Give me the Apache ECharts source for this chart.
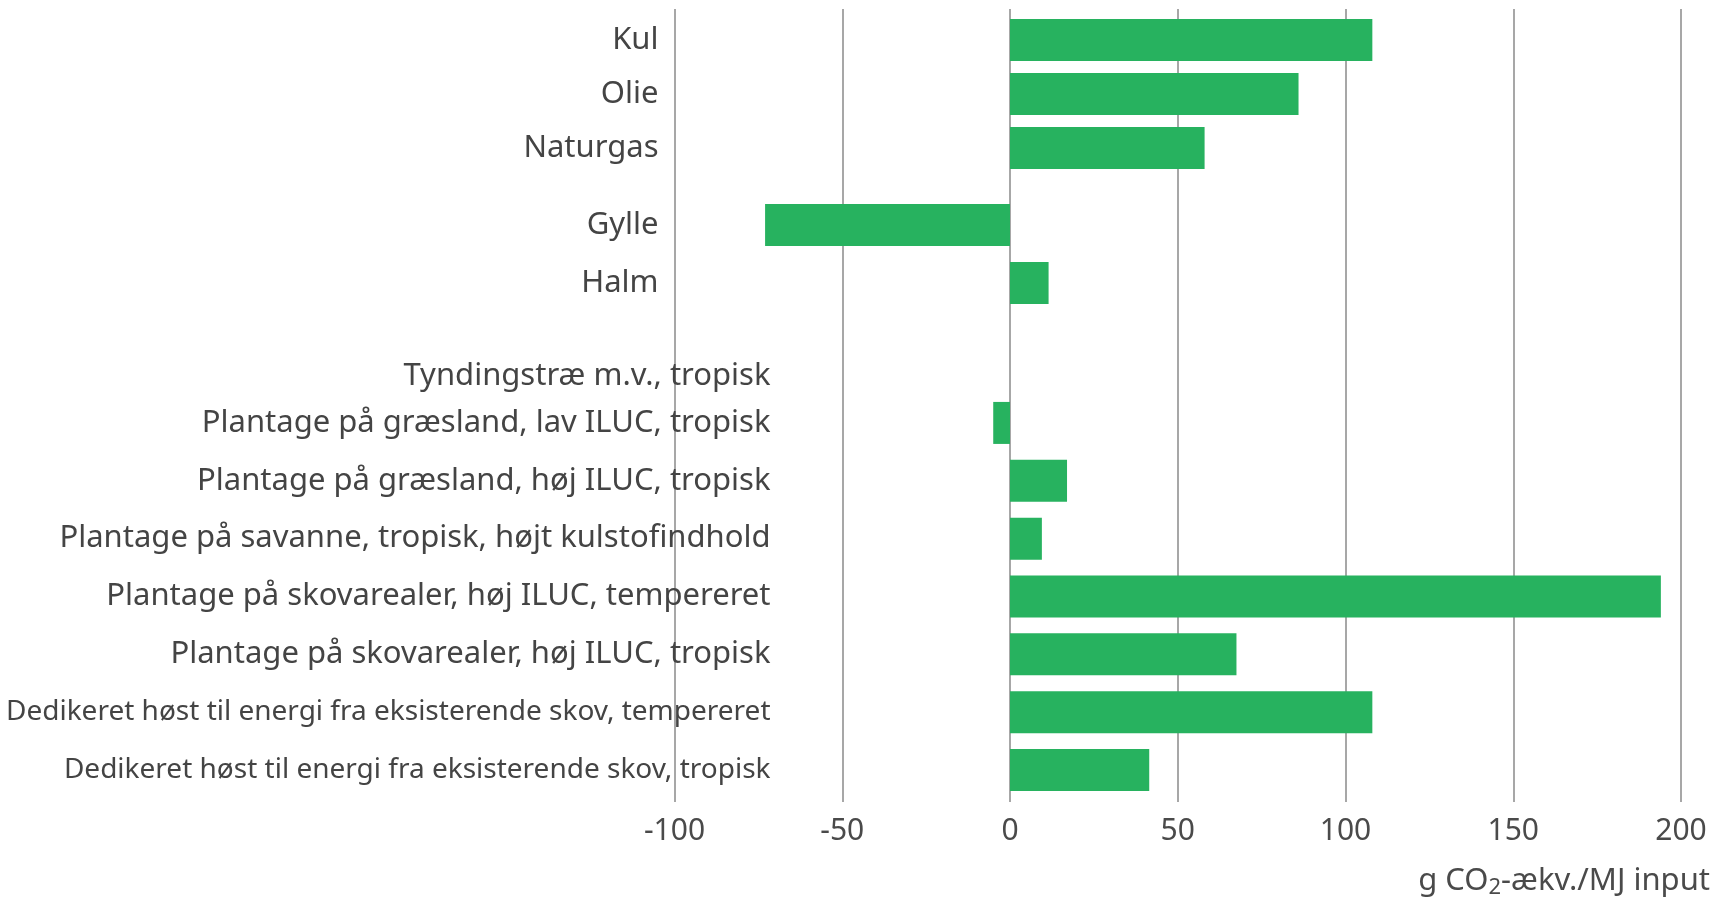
<!DOCTYPE html>
<html>
<head>
<meta charset="utf-8">
<script src="https://cdn.jsdelivr.net/npm/echarts@6/dist/echarts.min.js"></script>
<style>
html,body{margin:0;padding:0;background:#fff;}
#chart{width:1728px;height:898px;}
</style>
</head>
<body>
<div id="chart"></div>
<script>
// ---- data ----
const fossilCats = ['Kul', 'Olie', 'Naturgas'];
const fossilVals = [108, 86, 58];
const residueCats = ['Gylle', 'Halm'];
const residueVals = [-73, 11.5];
const thinningCats = ['Tyndingstræ m.v., tropisk'];
const thinningVals = [0];
const plantCats = [
  'Plantage på græsland, lav ILUC, tropisk',
  'Plantage på græsland, høj ILUC, tropisk',
  'Plantage på savanne, tropisk, højt kulstofindhold',
  'Plantage på skovarealer, høj ILUC, tempereret',
  'Plantage på skovarealer, høj ILUC, tropisk',
  'Dedikeret høst til energi fra eksisterende skov, tempereret',
  'Dedikeret høst til energi fra eksisterende skov, tropisk'
];
const plantVals = [-5, 17, 9.5, 194, 67.5, 108, 41.5];
const xMin = -100, xMax = 200, xStep = 50;

// ---- layout ----
const FONT = '"Noto Sans", sans-serif';
const GREEN = '#27B25F';
const TEXT = '#444444';
const LEFT = 674.5, RIGHT = 1728 - 1681;
const groups = [
  {cats: fossilCats, vals: fossilVals, top: 13, height: 162, margin: 16},
  {cats: residueCats, vals: residueVals, top: 196, height: 116, margin: 16},
  {cats: thinningCats, vals: thinningVals, top: 348, height: 56, margin: -96},
  {cats: plantCats, vals: plantVals, top: 394, height: 405, margin: -96}
];

const grid = [{left: LEFT, right: RIGHT, top: 9, bottom: 898 - 802}];
const xAxis = [{
  gridIndex: 0, type: 'value', min: xMin, max: xMax, interval: xStep,
  axisLine: {show: false}, axisTick: {show: false},
  splitLine: {show: true, lineStyle: {color: '#8a8a8a', width: 1.5}},
  axisLabel: {color: '#4a4a4a', fontFamily: FONT, fontSize: 30, margin: 14}
}];
const yAxis = [{gridIndex: 0, type: 'category', data: [''], show: false}];
const series = [];
groups.forEach((g, i) => {
  const gi = i + 1;
  grid.push({left: LEFT, right: RIGHT, top: g.top, height: g.height});
  xAxis.push({gridIndex: gi, type: 'value', min: xMin, max: xMax, interval: xStep, show: false});
  yAxis.push({
    gridIndex: gi, type: 'category', inverse: true, data: g.cats,
    axisLine: {show: false}, axisTick: {show: false}, splitLine: {show: false},
    axisLabel: {
      color: TEXT, fontFamily: FONT, fontSize: 31, margin: g.margin,
      formatter: v => v.indexOf('Dedikeret') === 0 ? '{n|' + v + '}' : v,
      rich: {n: {fontFamily: FONT, fontSize: 28, color: TEXT}}
    }
  });
  series.push({
    type: 'bar', xAxisIndex: gi, yAxisIndex: gi, data: g.vals,
    barWidth: 42, itemStyle: {color: GREEN}, silent: true, z: 3
  });
});

const chart = echarts.init(document.getElementById('chart'), null, {renderer: 'canvas'});
chart.setOption({
  animation: false,
  backgroundColor: '#fff',
  grid, xAxis, yAxis, series,
  title: {
    text: '{a|g CO}{s|2}{a|-ækv./MJ input}',
    right: 18, top: 861, padding: 0,
    textStyle: {
      fontWeight: 'normal',
      rich: {
        a: {fontFamily: FONT, fontSize: 31, fontWeight: 'normal', color: '#4a4a4a', lineHeight: 40},
        s: {fontFamily: FONT, fontSize: 22, fontWeight: 'normal', color: '#4a4a4a', lineHeight: 40, padding: [14, 0, 0, 0]}
      }
    }
  }
});
</script>
</body>
</html>
